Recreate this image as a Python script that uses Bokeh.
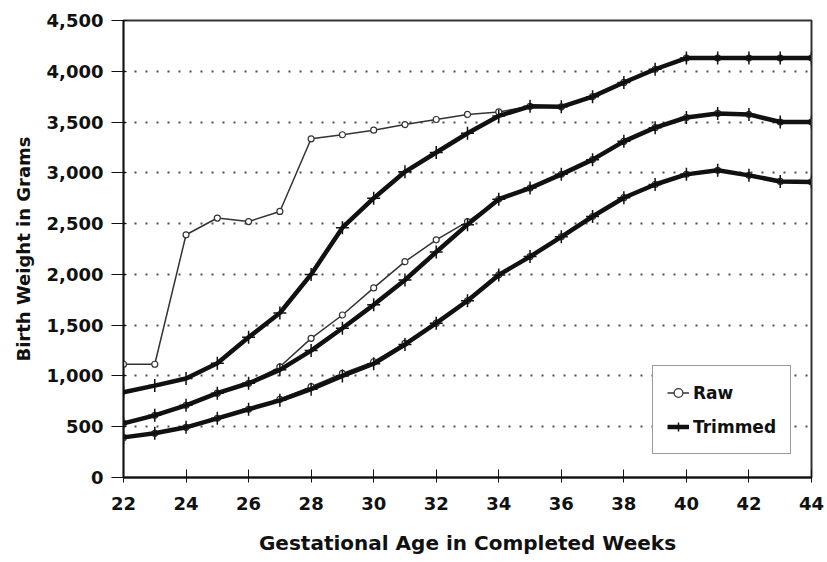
from bokeh.plotting import figure
from bokeh.models import Range1d, NumeralTickFormatter, FixedTicker, Legend, LegendItem
from bokeh.embed import file_html
from bokeh.resources import INLINE

weeks = list(range(22, 45))
trim_hi = [840, 905, 975, 1125, 1380, 1620, 2000, 2460, 2750, 3010, 3200, 3390, 3560, 3655, 3650, 3750, 3890, 4020, 4130, 4130, 4130, 4130, 4130]
raw_hi = [1115, 1115, 2390, 2555, 2520, 2620, 3335, 3375, 3420, 3475, 3525, 3575, 3600, 3655, 3650, 3750, 3890, 4020, 4130, 4130, 4130, 4130, 4130]
trim_mid = [533, 612, 711, 830, 928, 1060, 1250, 1470, 1700, 1945, 2220, 2490, 2740, 2850, 2985, 3130, 3310, 3445, 3545, 3585, 3575, 3500, 3500]
raw_mid = [533, 612, 711, 830, 928, 1090, 1370, 1600, 1867, 2125, 2340, 2520, 2740, 2850, 2985, 3130, 3310, 3445, 3545, 3585, 3575, 3500, 3500]
trim_lo = [395, 435, 494, 583, 672, 760, 870, 1000, 1120, 1310, 1520, 1740, 1995, 2175, 2370, 2570, 2755, 2885, 2985, 3025, 2975, 2915, 2910]
raw_lo = [395, 435, 494, 583, 672, 770, 895, 1025, 1140, 1320, 1520, 1740, 1995, 2175, 2370, 2570, 2755, 2885, 2985, 3025, 2975, 2915, 2910]

x_ticks = [22, 24, 26, 28, 30, 32, 34, 36, 38, 40, 42, 44]
y_ticks = [0, 500, 1000, 1500, 2000, 2500, 3000, 3500, 4000, 4500]

FONT = "DejaVu Sans"

p = figure(width=827, height=562, output_backend="svg", toolbar_location=None,
           x_range=Range1d(22, 44), y_range=Range1d(0, 4500),
           min_border_left=123, min_border_right=16, min_border_top=20, min_border_bottom=85)

p.background_fill_color = "white"
p.border_fill_color = "white"
p.outline_line_color = "#333333"
p.outline_line_width = 2

p.xgrid.grid_line_color = None
p.ygrid.grid_line_color = "#222222"
p.ygrid.grid_line_dash = "2 9"
p.ygrid.grid_line_width = 2
p.ygrid.grid_line_alpha = 0.8

p.xaxis.ticker = FixedTicker(ticks=x_ticks)
p.yaxis.ticker = FixedTicker(ticks=y_ticks)
p.yaxis.formatter = NumeralTickFormatter(format="0,0")

for ax in (p.xaxis[0], p.yaxis[0]):
    ax.major_label_text_font = FONT
    ax.major_label_text_font_style = "bold"
    ax.major_label_text_font_size = "18px"
    ax.major_label_text_color = "#111111"
    ax.axis_label_text_font = FONT
    ax.axis_label_text_font_style = "bold"
    ax.axis_label_text_color = "#111111"
    ax.axis_line_color = "#111111"
    ax.major_tick_line_color = "#111111"
    ax.minor_tick_line_color = None

p.xaxis.axis_label_text_font_size = "20px"
p.yaxis.axis_label_text_font_size = "18px"
p.xaxis.axis_line_width = 2
p.yaxis.axis_line_width = 1.5
p.xaxis.major_tick_in = 8
p.xaxis.major_tick_out = 5
p.yaxis.major_tick_in = 3
p.yaxis.major_tick_out = 12
p.xaxis.major_label_standoff = 14
p.yaxis.major_label_standoff = 8
p.xaxis.axis_label = "Gestational Age in Completed Weeks"
p.yaxis.axis_label = "Birth Weight in Grams"
p.xaxis.axis_label_standoff = 18
p.yaxis.axis_label_standoff = 10

raw_rs = []
trim_rs = []
for ys in (raw_hi, raw_mid, raw_lo):
    l = p.line(weeks, ys, line_color="#333333", line_width=1.5)
    s = p.scatter(weeks, ys, marker="circle", size=6, fill_color="white", line_color="#333333", line_width=1.2)
    raw_rs.append((l, s))
for ys in (trim_hi, trim_mid, trim_lo):
    l = p.line(weeks, ys, line_color="#111111", line_width=4.5)
    s = p.scatter(weeks, ys, marker="cross", size=13, line_color="#111111", line_width=1.5)
    trim_rs.append((l, s))

legend = Legend(items=[
    LegendItem(label="Raw", renderers=list(raw_rs[0])),
    LegendItem(label="Trimmed", renderers=list(trim_rs[0])),
], location=(529, 23))
legend.label_text_font = FONT
legend.label_text_font_style = "bold"
legend.label_text_font_size = "17px"
legend.label_text_color = "#111111"
legend.glyph_width = 22
legend.label_standoff = 4
legend.padding = 14
legend.spacing = 9
legend.label_height = 25
legend.glyph_height = 25
legend.border_line_color = "#333333"
legend.border_line_width = 1.5
legend.background_fill_color = "white"
legend.background_fill_alpha = 1
p.add_layout(legend, "center")

open("out.html", "w").write(file_html(p, INLINE))
